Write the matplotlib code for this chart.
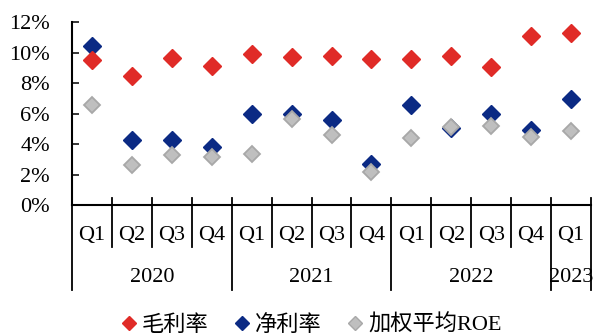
import matplotlib
matplotlib.use("Agg")
import matplotlib.pyplot as plt
from matplotlib.lines import Line2D
import numpy as np

quarters = ["Q1", "Q2", "Q3", "Q4", "Q1", "Q2", "Q3", "Q4", "Q1", "Q2", "Q3", "Q4", "Q1"]
years = ["2020", "2021", "2022", "2023"]
year_counts = [4, 4, 4, 1]

gross_margin = [9.5, 8.46, 9.66, 9.13, 9.9, 9.68, 9.78, 9.55, 9.6, 9.77, 9.07, 11.08, 11.3]
net_margin = [10.45, 4.24, 4.28, 3.82, 5.97, 5.95, 5.6, 2.67, 6.54, 5.05, 5.95, 4.95, 6.97]
roe = [6.56, 2.64, 3.26, 3.17, 3.34, 5.64, 4.57, 2.14, 4.37, 5.11, 5.18, 4.48, 4.85]

series_names = ["毛利率", "净利率", "加权平均ROE"]

plt.rcParams['font.family'] = ['Liberation Serif', 'Noto Sans CJK SC', 'DejaVu Sans']

W, H = 593, 336
fig = plt.figure(figsize=(W / 100, H / 100), dpi=100)
ax = fig.add_axes([72 / W, 1 - 205 / H, 519 / W, 183 / H])

red = "#E02B27"
blue = "#0B2A84"
gray_f = "#BFBFBF"
gray_e = "#A8A8A8"

x = np.arange(len(quarters))
ms = 9.0
ax.plot(x, net_margin, linestyle='none', marker='D', ms=ms, color=blue, mec=blue, zorder=3, clip_on=False)
ax.plot(x, gross_margin, linestyle='none', marker='D', ms=ms, color=red, mec=red, zorder=4, clip_on=False)
ax.plot(x, roe, linestyle='none', marker='D', ms=ms - 0.6, color=gray_f, mec=gray_e, mew=1.3, zorder=4, clip_on=False)

ax.set_xlim(-0.5, len(quarters) - 0.5)
ax.set_ylim(0, 12)
ax.set_yticks(np.arange(0, 13, 2))
ax.set_yticklabels([f"{v}%" for v in range(0, 13, 2)], fontsize=16)
ax.tick_params(axis='y', direction='in', length=5, width=1.1, pad=16)
ax.set_xticks([])

for s in ['top', 'right']:
    ax.spines[s].set_visible(False)
ax.spines['left'].set_linewidth(1.5)
ax.spines['bottom'].set_linewidth(1.5)

trans = ax.get_xaxis_transform()
up = 7 / 183
q_len = 42 / 183
y_len = 85 / 183

year_bounds = set(np.cumsum([0] + year_counts))
for b in range(len(quarters) + 1):
    xb = b - 0.5
    bottom = -y_len if b in year_bounds else -q_len
    top = up if b != 0 else 0
    ax.add_line(Line2D([xb, xb], [bottom, top], transform=trans, color='black', lw=1.3, clip_on=False))

for i, q in enumerate(quarters):
    ax.text(i, -30 / 183, q, transform=trans, ha='center', va='center', fontsize=16)

start = 0
for yr, c in zip(years, year_counts):
    center = start + (c - 1) / 2
    ax.text(center, -72 / 183, yr, transform=trans, ha='center', va='center', fontsize=16)
    start += c

handles = [
    Line2D([], [], linestyle='none', marker='D', ms=7, color=red, mec=red),
    Line2D([], [], linestyle='none', marker='D', ms=7, color=blue, mec=blue),
    Line2D([], [], linestyle='none', marker='D', ms=7, color=gray_f, mec=gray_e),
]
fig.legend(handles, series_names, loc='center', bbox_to_anchor=(312 / W, 1 - 325 / H),
           ncol=3, frameon=False, handlelength=0.6, handletextpad=0.3,
           columnspacing=1.2, borderpad=0,
           prop={'family': ['Liberation Serif', 'Noto Sans CJK SC'], 'size': 16})

fig.savefig("out.png", dpi=100)
